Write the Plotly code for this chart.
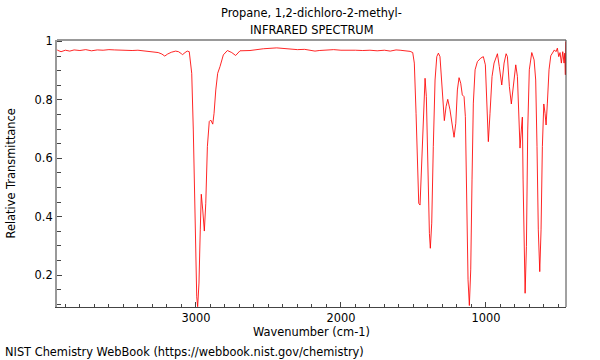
import plotly.graph_objects as go

# Wavenumber (cm-1) and relative transmittance
wavenumber = [
    3958, 3955, 3930, 3900, 3870, 3840, 3800, 3760, 3720, 3680, 3640, 3600, 3560, 3520,
    3480, 3440, 3400, 3360, 3320, 3280, 3260, 3235, 3215, 3195, 3170, 3140, 3120, 3100,
    3092, 3075, 3060, 3046, 3029, 3018, 3006, 2994.5, 2988, 2979, 2970, 2963, 2953, 2942,
    2932, 2921, 2908, 2898, 2884, 2875, 2863, 2850, 2834, 2811, 2783, 2753, 2726, 2696,
    2627, 2535, 2443, 2351, 2300, 2250, 2200, 2179, 2150, 2100, 2050, 2000, 1950, 1900,
    1850, 1800, 1750, 1700, 1660, 1620, 1592, 1558, 1523, 1505, 1494, 1482, 1473, 1463.5,
    1454.5, 1445.5, 1432, 1420, 1411, 1399, 1390, 1383.5, 1374, 1363, 1351, 1339, 1328,
    1317, 1303, 1294, 1287, 1275, 1263.5, 1248, 1232, 1220, 1208, 1197, 1185.5, 1174,
    1163, 1151, 1142, 1132.5, 1123.5, 1114.5, 1105, 1096, 1087, 1075, 1059, 1036, 1018,
    1004, 994.5, 983.5, 972, 958, 944, 921, 908, 891, 875, 861, 852, 838.6, 825, 811,
    794.5, 783, 774, 765, 756, 749, 744, 737, 730, 721, 712, 701, 684, 668, 657, 648,
    639, 629, 620, 611, 601, 592.5, 585.4, 576.5, 565, 553, 539, 528, 517, 507.5, 498,
    489, 480, 470.4, 461.4, 456.6, 452.4, 450,
]
transmittance = [
    0.972, 0.970, 0.965, 0.970, 0.967, 0.971, 0.969, 0.972, 0.968, 0.971, 0.970, 0.972, 0.971, 0.970,
    0.968, 0.969, 0.970, 0.968, 0.966, 0.965, 0.962, 0.957, 0.950, 0.957, 0.963, 0.967, 0.965, 0.958,
    0.955, 0.962, 0.967, 0.965, 0.891, 0.697, 0.355, 0.126, 0.092, 0.173, 0.355, 0.477, 0.423, 0.351,
    0.446, 0.640, 0.726, 0.731, 0.717, 0.754, 0.834, 0.891, 0.914, 0.954, 0.969, 0.962, 0.952, 0.968,
    0.969, 0.975, 0.978, 0.974, 0.972, 0.973, 0.970, 0.967, 0.969, 0.971, 0.972, 0.970, 0.971, 0.970,
    0.969, 0.970, 0.968, 0.970, 0.967, 0.971, 0.970, 0.968, 0.966, 0.962, 0.926, 0.754, 0.583, 0.446,
    0.440, 0.549, 0.754, 0.874, 0.811, 0.526, 0.343, 0.292, 0.378, 0.640, 0.868, 0.948, 0.960,
    0.948, 0.834, 0.754, 0.729, 0.777, 0.802, 0.766, 0.709, 0.672, 0.720, 0.834, 0.876, 0.857,
    0.817, 0.811, 0.743, 0.469, 0.184, 0.096, 0.218, 0.526, 0.789, 0.903, 0.931, 0.943, 0.948,
    0.920, 0.811, 0.657, 0.754, 0.880, 0.926, 0.958, 0.914, 0.851, 0.926, 0.958, 0.948, 0.846, 0.786, 0.846,
    0.920, 0.880, 0.754, 0.635, 0.697, 0.741, 0.526, 0.241, 0.138, 0.298, 0.697, 0.903, 0.962, 0.937, 0.868, 0.640,
    0.355, 0.212, 0.355, 0.640, 0.786, 0.754, 0.714, 0.789, 0.903, 0.951, 0.960, 0.971, 0.965, 0.977, 0.948,
    0.962, 0.926, 0.965, 0.926, 0.960, 0.886, 1.0,
]

title_lines = ["Propane, 1,2-dichloro-2-methyl-", "INFRARED SPECTRUM"]
x_title = "Wavenumber (cm-1)"
y_title = "Relative Transmittance"
footer = "NIST Chemistry WebBook (https://webbook.nist.gov/chemistry)"

FONT = "DejaVu Sans"
FS = 11.4

fig = go.Figure()
fig.add_trace(go.Scatter(
    x=wavenumber, y=transmittance, mode="lines",
    line=dict(color="rgba(255,0,0,0.85)", width=1),
    hoverinfo="skip", showlegend=False,
))

fig.update_layout(
    width=600, height=360,
    margin=dict(l=57, r=34, t=40, b=53),
    paper_bgcolor="white", plot_bgcolor="white",
    font=dict(family=FONT, size=FS, color="black"),
    showlegend=False,
    xaxis=dict(
        range=[3958, 448], showgrid=False, zeroline=False,
        showline=True, linecolor="#444444", linewidth=1,
        ticks="inside", ticklen=5, tickcolor="#444444", tickwidth=1,
        tick0=0, dtick=1000,
        minor=dict(ticks="inside", ticklen=3, dtick=100, tickcolor="#444444", showgrid=False),
        tickfont=dict(family=FONT, size=FS, color="black"),
    ),
    yaxis=dict(
        range=[0.091, 1.005], showgrid=False, zeroline=False,
        showline=True, linecolor="#999999", linewidth=2,
        ticks="inside", ticklen=5, tickcolor="#444444", tickwidth=1,
        tick0=0, dtick=0.2,
        minor=dict(ticks="inside", ticklen=4, dtick=0.05, tickcolor="#444444", showgrid=False),
        tickfont=dict(family=FONT, size=FS, color="black"),
    ),
    shapes=[
        dict(type="line", xref="paper", yref="paper", x0=0, x1=1, y0=1, y1=1,
             line=dict(color="#999999", width=2)),
        dict(type="line", xref="paper", yref="paper", x0=1, x1=1, y0=0, y1=1,
             line=dict(color="#444444", width=1)),
    ],
    annotations=[
        dict(text=title_lines[0], xref="paper", yref="paper", x=0.5, y=1.102,
             xanchor="center", yanchor="middle", showarrow=False, font=dict(size=FS)),
        dict(text=title_lines[1], xref="paper", yref="paper", x=0.5, y=1.0375,
             xanchor="center", yanchor="middle", showarrow=False, font=dict(size=FS)),
        dict(text=x_title, xref="paper", yref="paper", x=0.5, y=-0.0936,
             xanchor="center", yanchor="middle", showarrow=False, font=dict(size=FS)),
        dict(text=y_title, xref="paper", yref="paper", x=-0.0904, y=0.5,
             xanchor="center", yanchor="middle", textangle=-90, showarrow=False, font=dict(size=FS)),
        dict(text=footer, xref="paper", yref="paper", x=-0.1061, y=-0.1685,
             xanchor="left", yanchor="middle", showarrow=False, font=dict(size=FS)),
    ],
)

fig.write_html(
    "out.html",
    config={"displayModeBar": False},
    post_script="document.body.style.margin='0';document.body.style.overflow='hidden';",
)
